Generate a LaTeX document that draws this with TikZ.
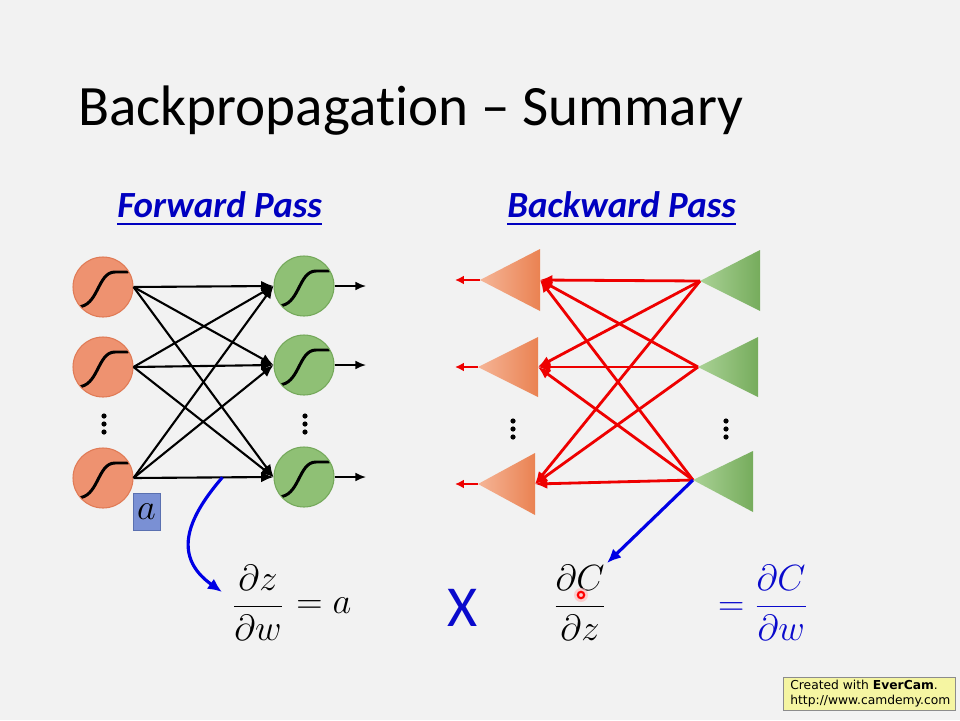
\documentclass[tikz,border=0pt]{standalone}
\usepackage{fontspec}
\setmainfont{Carlito}[Ligatures=NoCommon]
\newfontfamily\evfont{DejaVu Sans}
\usetikzlibrary{arrows.meta}
\definecolor{bg}{HTML}{F2F2F2}
\definecolor{orfill}{HTML}{EE9270}
\definecolor{oredge}{HTML}{E07A55}
\definecolor{orlight}{HTML}{F5B597}
\definecolor{ordark}{HTML}{EA8252}
\definecolor{grfill}{HTML}{8FC075}
\definecolor{gredge}{HTML}{74A85A}
\definecolor{grlight}{HTML}{AAD296}
\definecolor{grdark}{HTML}{76AC5C}
\definecolor{hblue}{HTML}{0000C0}
\definecolor{eqblue}{HTML}{0A0ACC}
\definecolor{abox}{HTML}{7A90D4}
\definecolor{aboxedge}{HTML}{5A70B0}
\definecolor{redge}{HTML}{EE0000}
\definecolor{evy}{HTML}{F5F5A2}
\tikzset{
  sigcirc/.style={circle, minimum size=1.2cm, inner sep=0pt, line width=0.6pt,
    path picture={\draw[draw=black, line width=1.7pt, line cap=round]
      ([shift={(-26,20)}]path picture bounding box.center)
      .. controls +(22,0) and +(-18,0) .. ++(38,-35) -- ++(13,0);}},
  ocirc/.style={sigcirc, fill=orfill, draw=oredge},
  gcirc/.style={sigcirc, fill=grfill, draw=gredge},
  fwd/.style={line width=1.2pt, -{Latex[length=7pt,width=6pt]}},
  fwdout/.style={line width=1pt, -{Latex[length=6pt,width=5pt]}},
  bwd/.style={line width=1.6pt, draw=redge, -{Latex[length=7pt,width=6pt]}},
  bwdout/.style={line width=1.3pt, draw=redge, -{Latex[length=5pt,width=5pt]}},
  bluearr/.style={line width=1.8pt, draw=blue!90!black, -{Latex[length=8pt,width=7pt]}},
  hdr/.style={font=\fontsize{21}{25}\selectfont\bfseries\itshape, text=hblue, inner sep=0pt, anchor=base west},
  eq/.style={font=\fontsize{20}{24}\selectfont, inner sep=0pt},
}
\begin{document}
\begin{tikzpicture}[x=0.02cm, y=-0.02cm]
\fill[bg] (0,0) rectangle (960,720);
\useasboundingbox (0,0) rectangle (960,720);

% title
\node[anchor=base west, inner sep=0pt, font=\fontsize{32.5}{38}\selectfont] (title) at (78,125) {Backpropagation – Summary};

% headers
\node[hdr] (fp) at (117,217) {Forward Pass};
\draw[hblue, line width=1.1pt] ([yshift=-4pt]fp.base west) -- ([yshift=-4pt]fp.base east);
\node[hdr] (bp) at (507,217) {Backward Pass};
\draw[hblue, line width=1.1pt] ([yshift=-4pt]bp.base west) -- ([yshift=-4pt]bp.base east);

% forward network
\node[ocirc] (o1) at (103,287) {};
\node[ocirc] (o2) at (103,367) {};
\node[ocirc] (o3) at (103,478) {};
\node[gcirc] (g1) at (304,286) {};
\node[gcirc] (g2) at (304,365) {};
\node[gcirc] (g3) at (304,477) {};
\foreach \i in {1,2,3}{
  \foreach \j in {1,2,3}{
    \draw[fwd] (o\i.east) -- (g\j.west);
  }
}
\path (o3.east) -- (g3.west) coordinate[pos=0.635] (ea);
\coordinate (out1) at (366,286);
\coordinate (out2) at (366,365);
\coordinate (out3) at (366,477);
\foreach \j in {1,2,3}{\draw[fwdout] (g\j.east) -- (out\j);}
\foreach \yy in {416,424,432}{
  \fill (104,\yy) circle (2.6);
  \fill (305,\yy) circle (2.6);
}
% a box
\node[fill=abox, draw=aboxedge, line width=0.5pt, minimum width=0.54cm, minimum height=0.74cm, inner sep=0pt,
  font=\fontsize{20}{24}\selectfont] (abx) at (146.5,512) {$a$};

% backward network
\coordinate (ot1) at (480,280); \coordinate (ob1) at (540,280);
\coordinate (ot2) at (478,367); \coordinate (ob2) at (538,367);
\coordinate (ot3) at (478,484); \coordinate (ob3) at (535,484);
\shade[left color=orlight, right color=ordark] (ot1) -- (540,249) -- (540,311) -- cycle;
\shade[left color=orlight, right color=ordark] (ot2) -- (538,337) -- (538,397) -- cycle;
\shade[left color=orlight, right color=ordark] (ot3) -- (535,453) -- (535,515) -- cycle;
\coordinate (gt1) at (700,281);
\coordinate (gt2) at (698,367);
\coordinate (gt3) at (693,480);
\shade[left color=grlight, right color=grdark] (gt1) -- (760,250) -- (760,311) -- cycle;
\shade[left color=grlight, right color=grdark] (gt2) -- (758,337) -- (758,397) -- cycle;
\shade[left color=grlight, right color=grdark] (gt3) -- (753,451) -- (753,512) -- cycle;
\foreach \i in {1,2,3}{
  \foreach \j in {1,2,3}{
    \draw[bwd] (gt\i) -- (ob\j);
  }
}
\coordinate (bo1) at (455,280);
\coordinate (bo2) at (455,367);
\coordinate (bo3) at (455,484);
\foreach \j in {1,2,3}{\draw[bwdout] (ot\j) -- (bo\j);}
\foreach \yy in {421,429,437}{
  \fill (513,\yy) circle (2.6);
  \fill (726,\yy) circle (2.6);
}

% formulas
\node[eq] (f1) at (258,603) {$\displaystyle\frac{\partial z}{\partial w}$};
\node[eq, anchor=west] (eqa) at (296,606) {$= a$};
\node[font=\fontsize{33}{38}\selectfont, text=eqblue, inner sep=0pt] (xx) at (463,608) {X};
\node[eq] (f2) at (580,603) {$\displaystyle\frac{\partial C}{\partial z}$};
\node[eq, text=eqblue] (f3) at (763,603) {$\displaystyle=\frac{\partial C}{\partial w}$};

% blue arrows
\coordinate (e1) at (222,592);
\draw[bluearr] (ea) .. controls (190,515) and (170,555) .. (e1);
\coordinate (e2) at (607,563);
\draw[bluearr] (gt3) -- (e2);

% cursor mark
\fill[red!25, opacity=0.7] (581,595) circle (7);
\draw[red, line width=1.2pt] (581,595) circle (3.2);

% EverCam box
\node[draw=black!45, fill=evy, line width=0.4pt, minimum width=3.44cm, minimum height=0.66cm, inner sep=0pt] (ev) at (869,693.5) {};
\node[anchor=west, font=\evfont\fontsize{7}{8.6}\selectfont, align=left, inner sep=0pt] (evt) at (790,693.5)
  {Created with \textbf{EverCam}.\\http://www.camdemy.com};
\end{tikzpicture}
\end{document}
